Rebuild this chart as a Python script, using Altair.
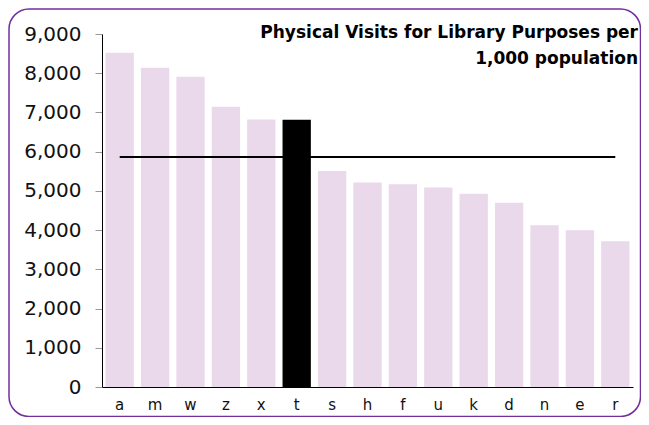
import altair as alt
import pandas as pd

categories = ["a", "m", "w", "z", "x", "t", "s", "h", "f", "u", "k", "d", "n", "e", "r"]
values = [8520, 8140, 7910, 7145, 6820, 6815, 5505, 5215, 5172, 5087, 4925, 4695, 4126, 3998, 3718]
highlight = "t"
average = 5861
title_lines = ["Physical Visits for Library Purposes per", "1,000 population"]

df = pd.DataFrame({"cat": categories, "val": values})
FONT = "DejaVu Sans"

x_scale = alt.Scale(domain=categories, paddingInner=0.2, paddingOuter=0.1)
y_scale = alt.Scale(domain=[0, 9000], nice=False)

x_axis = alt.Axis(labelAngle=0, ticks=False, domainColor="black",
                  labelFontSize=15, labelColor="#111", labelFont=FONT,
                  labelPadding=10)
y_axis = alt.Axis(values=list(range(0, 9001, 1000)), format=",.0f",
                  grid=False, domainColor="black", tickColor="#999",
                  tickSize=7, labelFontSize=20, labelColor="#111",
                  labelFont=FONT, labelPadding=14)

bars = alt.Chart(df).mark_bar().encode(
    x=alt.X("cat:N", scale=x_scale, title=None, axis=x_axis),
    y=alt.Y("val:Q", title=None, scale=y_scale, axis=y_axis),
    color=alt.condition(alt.datum.cat == highlight, alt.value("black"), alt.value("#EAD9EB")),
)

avg_df = pd.DataFrame({"start": [categories[0]], "end": [categories[-1]], "avg": [average]})
rule = alt.Chart(avg_df).mark_rule(color="black", strokeWidth=2).encode(
    x=alt.X("start:N", scale=x_scale, title=None, axis=x_axis),
    x2="end:N",
    y=alt.Y("avg:Q", scale=y_scale, title=None, axis=y_axis),
)

title_df = pd.DataFrame({"t": [title_lines]})
title = alt.Chart(title_df).mark_text(
    align="right", baseline="alphabetic", font=FONT, fontSize=17,
    fontWeight="bold", color="black", lineHeight=26
).encode(
    x=alt.value(536), y=alt.value(4), text="t"
)

border_df = pd.DataFrame({"k": [0]})
border = alt.Chart(border_df).mark_rect(
    filled=False, stroke="#7030A0", strokeWidth=1.5, cornerRadius=20
).encode(
    x=alt.value(-93), x2=alt.value(538.5), y=alt.value(-25), y2=alt.value(382.5)
)

chart = alt.layer(bars, rule, title, border).properties(
    width=531, height=353,
    background="white",
    autosize=alt.AutoSizeParams(type="none"),
    padding={"left": 94, "top": 26, "right": 8, "bottom": 30},
).configure_view(strokeWidth=0)

chart.save("out.html", embed_options={"renderer": "svg", "actions": False})
